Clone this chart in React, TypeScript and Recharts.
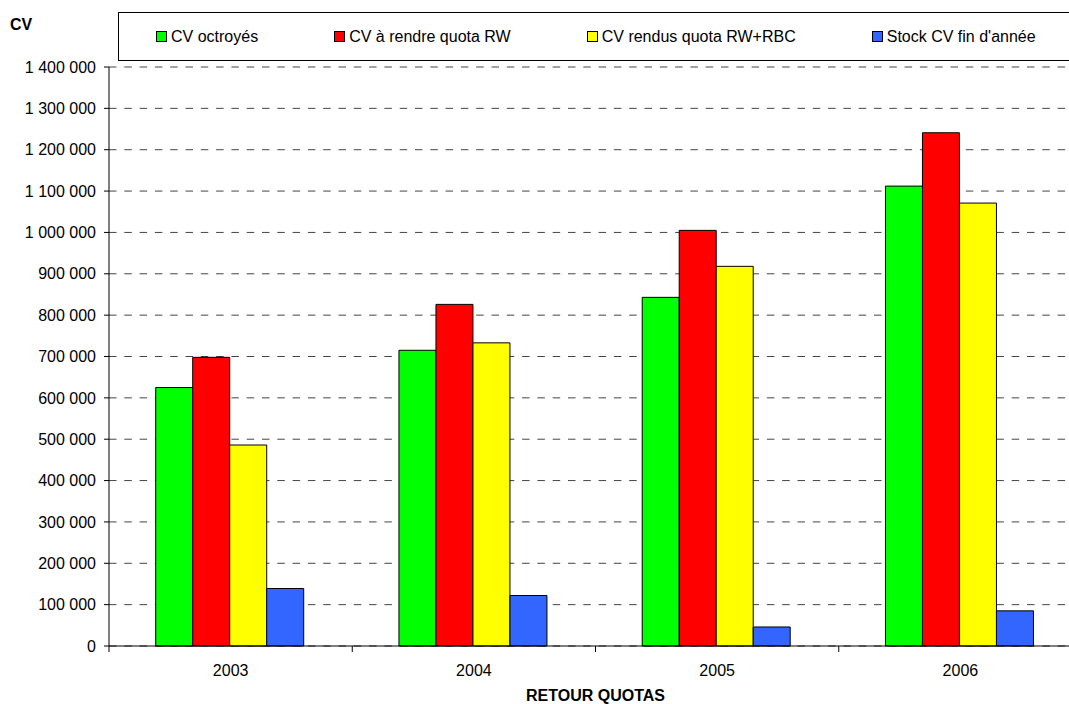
import { BarChart, Bar, XAxis, YAxis, CartesianGrid, Legend } from 'recharts';

const years = ['2003', '2004', '2005', '2006'];
const seriesNames = ['CV octroyés', 'CV à rendre quota RW', 'CV rendus quota RW+RBC', "Stock CV fin d'année"];
const octroyes = [625000, 715000, 843000, 1112000];
const aRendre = [698000, 826000, 1005000, 1241000];
const rendus = [486000, 733000, 918000, 1071000];
const stock = [139000, 122000, 46000, 85000];
const yTicks = [0, 100000, 200000, 300000, 400000, 500000, 600000, 700000, 800000, 900000, 1000000, 1100000, 1200000, 1300000, 1400000];

const rows = years.map((year, i) => ({
  year,
  octroyes: octroyes[i],
  aRendre: aRendre[i],
  rendus: rendus[i],
  stock: stock[i],
}));

const FONT = "'Liberation Sans', Arial, Helvetica, sans-serif";
const X_TICK_SIZE = 6;
const X_TICK_MARGIN = 13;

// "1 400 000" style grouping with plain spaces
const fmt = (v: number) => String(v).replace(/\B(?=(\d{3})+(?!\d))/g, ' ');

// year label plus tick marks on the category boundaries (Excel style)
function YearTick(props: any) {
  const { x, y, payload, index, visibleTicksCount } = props;
  const half = payload?.offset ?? 0;
  const top = y - X_TICK_MARGIN - X_TICK_SIZE;
  return (
    <g>
      <line x1={x - half} x2={x - half} y1={top} y2={top + X_TICK_SIZE} stroke="#000" />
      {index === visibleTicksCount - 1 && (
        <line x1={x + half} x2={x + half} y1={top} y2={top + X_TICK_SIZE} stroke="#000" />
      )}
      <text x={x} y={y} dy="0.71em" textAnchor="middle" fontSize={16} fill="#000">
        {payload.value}
      </text>
    </g>
  );
}

function LegendBox({ payload }: any) {
  // keep series order, legend sorts by name otherwise
  const items = [...(payload || [])].sort(
    (a: any, b: any) => seriesNames.indexOf(a.value) - seriesNames.indexOf(b.value)
  );
  return (
    <div
      style={{
        boxSizing: 'border-box',
        width: '100%',
        height: '100%',
        border: '1px solid #000',
        background: '#fff',
        display: 'flex',
        alignItems: 'center',
        paddingLeft: 37,
        gap: 76,
        fontSize: 16,
        color: '#000',
        whiteSpace: 'nowrap',
      }}
    >
      {items.map((item: any) => (
        <div key={item.value} style={{ display: 'flex', alignItems: 'center' }}>
          <span
            style={{
              display: 'inline-block',
              width: 9,
              height: 9,
              border: '1px solid #000',
              background: item.color,
              marginRight: 4,
            }}
          />
          <span>{item.value}</span>
        </div>
      ))}
    </div>
  );
}

export default function App() {
  return (
    <div
      style={{
        position: 'absolute',
        left: 0,
        top: 0,
        width: 1069,
        height: 704,
        overflow: 'hidden',
        background: '#fff',
        fontFamily: FONT,
      }}
    >
      <BarChart
        width={1100}
        height={704}
        data={rows}
        margin={{ top: 67, right: 18, bottom: 0, left: 0 }}
        barGap={0}
        barCategoryGap="19.2%"
      >
        <CartesianGrid vertical={false} stroke="#444" strokeDasharray="7.5 7.8" />
        <XAxis
          dataKey="year"
          interval={0}
          height={58}
          tickLine={false}
          tickSize={X_TICK_SIZE}
          tickMargin={X_TICK_MARGIN}
          axisLine={{ stroke: '#000' }}
          tick={<YearTick />}
          label={{
            content: (p: any) => {
              const vb = p.viewBox;
              return (
                <text
                  x={vb.x + vb.width / 2}
                  y={vb.y + vb.height - 3}
                  textAnchor="middle"
                  fontSize={16}
                  fontWeight="bold"
                  fill="#000"
                >
                  RETOUR QUOTAS
                </text>
              );
            },
          }}
        />
        <YAxis
          width={109}
          domain={[0, 1400000]}
          ticks={yTicks}
          interval={0}
          tickFormatter={fmt}
          tickSize={5}
          tickMargin={8}
          tick={{ fill: '#000', fontSize: 16 }}
          tickLine={{ stroke: '#000' }}
          axisLine={{ stroke: '#000' }}
          label={{
            content: (p: any) => {
              const vb = p.viewBox;
              return (
                <text x={vb.x + 10} y={vb.y - 37} fontSize={16} fontWeight="bold" fill="#000">
                  CV
                </text>
              );
            },
          }}
        />
        <Legend
          layout="horizontal"
          verticalAlign="middle"
          align="center"
          content={<LegendBox />}
          wrapperStyle={{ left: 118, top: 12, width: 1000, height: 49 }}
        />
        <Bar dataKey="octroyes" name={seriesNames[0]} fill="#00FF00" stroke="#000" strokeWidth={1} isAnimationActive={false} />
        <Bar dataKey="aRendre" name={seriesNames[1]} fill="#FF0000" stroke="#000" strokeWidth={1} isAnimationActive={false} />
        <Bar dataKey="rendus" name={seriesNames[2]} fill="#FFFF00" stroke="#000" strokeWidth={1} isAnimationActive={false} />
        <Bar dataKey="stock" name={seriesNames[3]} fill="#3366FF" stroke="#000" strokeWidth={1} isAnimationActive={false} />
      </BarChart>
    </div>
  );
}
